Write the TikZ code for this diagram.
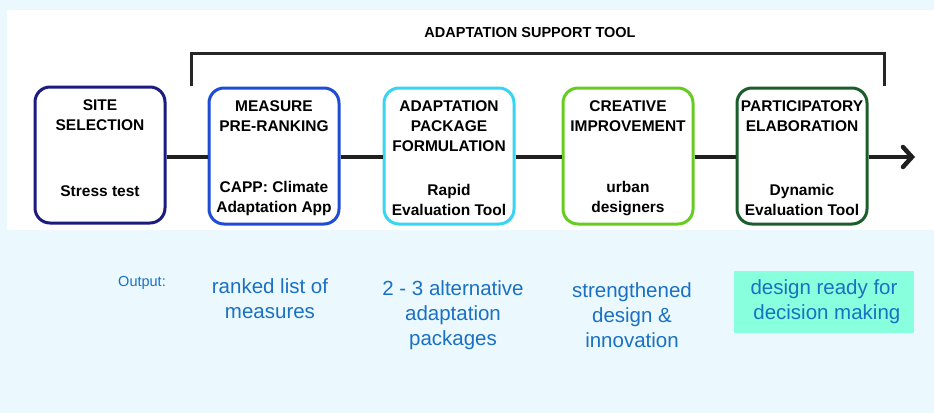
\documentclass[tikz,border=0pt]{standalone}
\usepackage{fontspec}
\setmainfont{Liberation Sans}
\usetikzlibrary{arrows.meta}

\definecolor{bgblue}{HTML}{EBF9FE}
\definecolor{siteclr}{HTML}{1C1C80}
\definecolor{measclr}{HTML}{1F4CD4}
\definecolor{packclr}{HTML}{38D4F2}
\definecolor{creaclr}{HTML}{66CC22}
\definecolor{partclr}{HTML}{1B5E2C}
\definecolor{outclr}{HTML}{1A70C2}
\definecolor{hiclr}{HTML}{88FFDD}

\begin{document}
\begin{tikzpicture}[x=1pt,y=-1pt,
    stage/.style={draw, line width=3pt, rounded corners=15pt, fill=white,
        minimum width=130pt, minimum height=136pt},
    head/.style={font=\fontsize{15.5}{20}\selectfont\bfseries, align=center, anchor=north, inner sep=0pt},
    tool/.style={font=\fontsize{15.5}{20}\selectfont\bfseries, align=center, anchor=south, inner sep=0pt},
    flow/.style={line width=4.5pt, black!88},
    output/.style={font=\fontsize{20.5}{25}\selectfont, text=outclr, align=center, inner sep=0pt}]
    \useasboundingbox (0,0) rectangle (934,413);
    \fill[bgblue] (0,0) rectangle (934,413);
    \fill[white] (7,10) rectangle (934,230);

    % flow line
    \coordinate (end) at (915,157);

    % stages
    \node[stage, draw=siteclr] (site) at (100,155) {};
    \node[stage, draw=measclr] (meas) at (274,156) {};
    \node[stage, draw=packclr] (pack) at (449,156) {};
    \node[stage, draw=creaclr] (crea) at (628,156) {};
    \node[stage, draw=partclr] (part) at (802,156) {};

    \node[head] at ([yshift=-14pt]site.north) {SITE\\SELECTION};
    \node[head] at ([yshift=-14pt]meas.north) {MEASURE\\PRE-RANKING};
    \node[head] at ([yshift=-14pt]pack.north) {ADAPTATION\\PACKAGE\\FORMULATION};
    \node[head] at ([yshift=-14pt]crea.north) {CREATIVE\\IMPROVEMENT};
    \node[head] at ([yshift=-14pt]part.north) {PARTICIPATORY\\ELABORATION};

    \node[tool] at ([yshift=28pt]site.south) {Stress test};
    \node[tool] at ([yshift=10pt]meas.south) {CAPP: Climate\\Adaptation App};
    \node[tool] at ([yshift=10pt]pack.south) {Rapid\\Evaluation Tool};
    \node[tool] at ([yshift=10pt]crea.south) {urban\\designers};
    \node[tool] at ([yshift=10pt]part.south) {Dynamic\\Evaluation Tool};

    \draw[flow] (site.east |- end) -- (meas.west |- end);
    \draw[flow] (meas.east |- end) -- (pack.west |- end);
    \draw[flow] (pack.east |- end) -- (crea.west |- end);
    \draw[flow] (crea.east |- end) -- (part.west |- end);
    \draw[flow, -{Straight Barb[length=9pt, width=20pt, line cap=round, line width=4.5pt]}]
        (part.east |- end) -- (end);

    % support tool bracket
    \node[font=\fontsize{14.5}{17}\selectfont\bfseries, inner sep=0pt] (ast) at (530,33) {ADAPTATION SUPPORT TOOL};
    \coordinate (bl) at (191,86);
    \coordinate (br) at (884,86);
    \draw[line width=3pt, black!85] (bl) -- (191,53) -- (884,53) -- (br);

    % outputs
    \node[font=\fontsize{14.5}{17}\selectfont, text=outclr, inner sep=0pt] (outlbl) at (142,283) {Output:};
    \node[output] (out1) at (270,298.5) {ranked list of\\measures};
    \node[output] (out2) at (453,315) {2 - 3 alternative\\adaptation\\packages};
    \node[output] (out3) at (632,315) {strengthened\\design \&\\innovation};
    \node[output, fill=hiclr, minimum width=180pt, minimum height=62pt] (out4) at (824,302) {design ready for\\\ decision making};
\end{tikzpicture}
\end{document}
